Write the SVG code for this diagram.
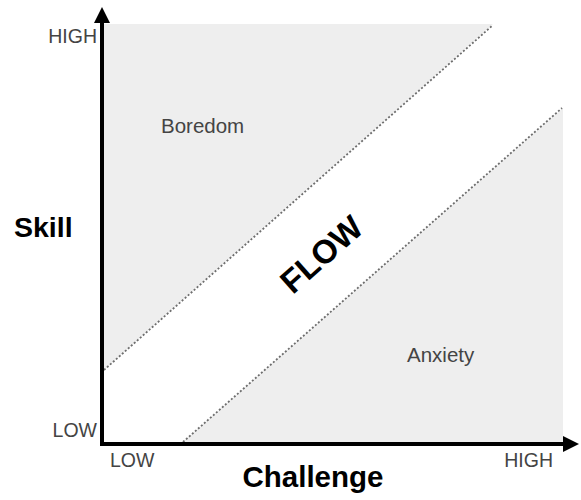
<svg xmlns="http://www.w3.org/2000/svg" width="581" height="500" viewBox="0 0 581 500">
<style>
.zone{fill:#eeeeee;stroke:none}
.div{stroke:#6e6e6e;stroke-width:1.8;stroke-dasharray:2 2;fill:none}
.axis{stroke:#000;stroke-width:4;fill:none}
.tick{font-family:"Liberation Sans",Arial,sans-serif;font-size:19.5px;fill:#444}
.lab{font-family:"Liberation Sans",Arial,sans-serif;font-size:20.5px;fill:#444}
.title{font-family:"Liberation Sans",Arial,sans-serif;font-weight:bold;fill:#000}
</style>
<defs>
<marker id="ah" viewBox="0 0 10 10" refX="0" refY="5" markerWidth="4.2" markerHeight="4" orient="auto" markerUnits="strokeWidth">
<path d="M0,0 L10,5 L0,10 Z" fill="#000"/>
</marker>
</defs>
<rect x="0" y="0" width="581" height="500" fill="#fff"/>
<g id="boredom">
<polygon class="zone" points="104,24 493,24 104,370"/>
<text class="lab" x="161" y="133">Boredom</text>
</g>
<g id="anxiety">
<polygon class="zone" points="183,442 563,442 563,108"/>
<text class="lab" x="407" y="362">Anxiety</text>
</g>
<g id="flow">
<text class="title" font-size="33" text-anchor="middle" transform="translate(321,254) rotate(-41.6)" y="12">FLOW</text>
</g>
<g id="connectors">
<line class="div" x1="104" y1="370" x2="493" y2="25"/>
<line class="div" x1="183" y1="442" x2="562" y2="108"/>
<line class="axis" x1="102" y1="446" x2="102" y2="23" marker-end="url(#ah)"/>
<line class="axis" x1="100" y1="444" x2="563" y2="444" marker-end="url(#ah)"/>
</g>
<g id="axis-labels">
<text class="tick" x="97" y="43" text-anchor="end">HIGH</text>
<text class="tick" x="97" y="437" text-anchor="end">LOW</text>
<text class="tick" x="110" y="467">LOW</text>
<text class="tick" x="553" y="467" text-anchor="end">HIGH</text>
<text class="title" font-size="28.5" x="14" y="237">Skill</text>
<text class="title" font-size="29.5" x="313" y="487" text-anchor="middle">Challenge</text>
</g>
</svg>
